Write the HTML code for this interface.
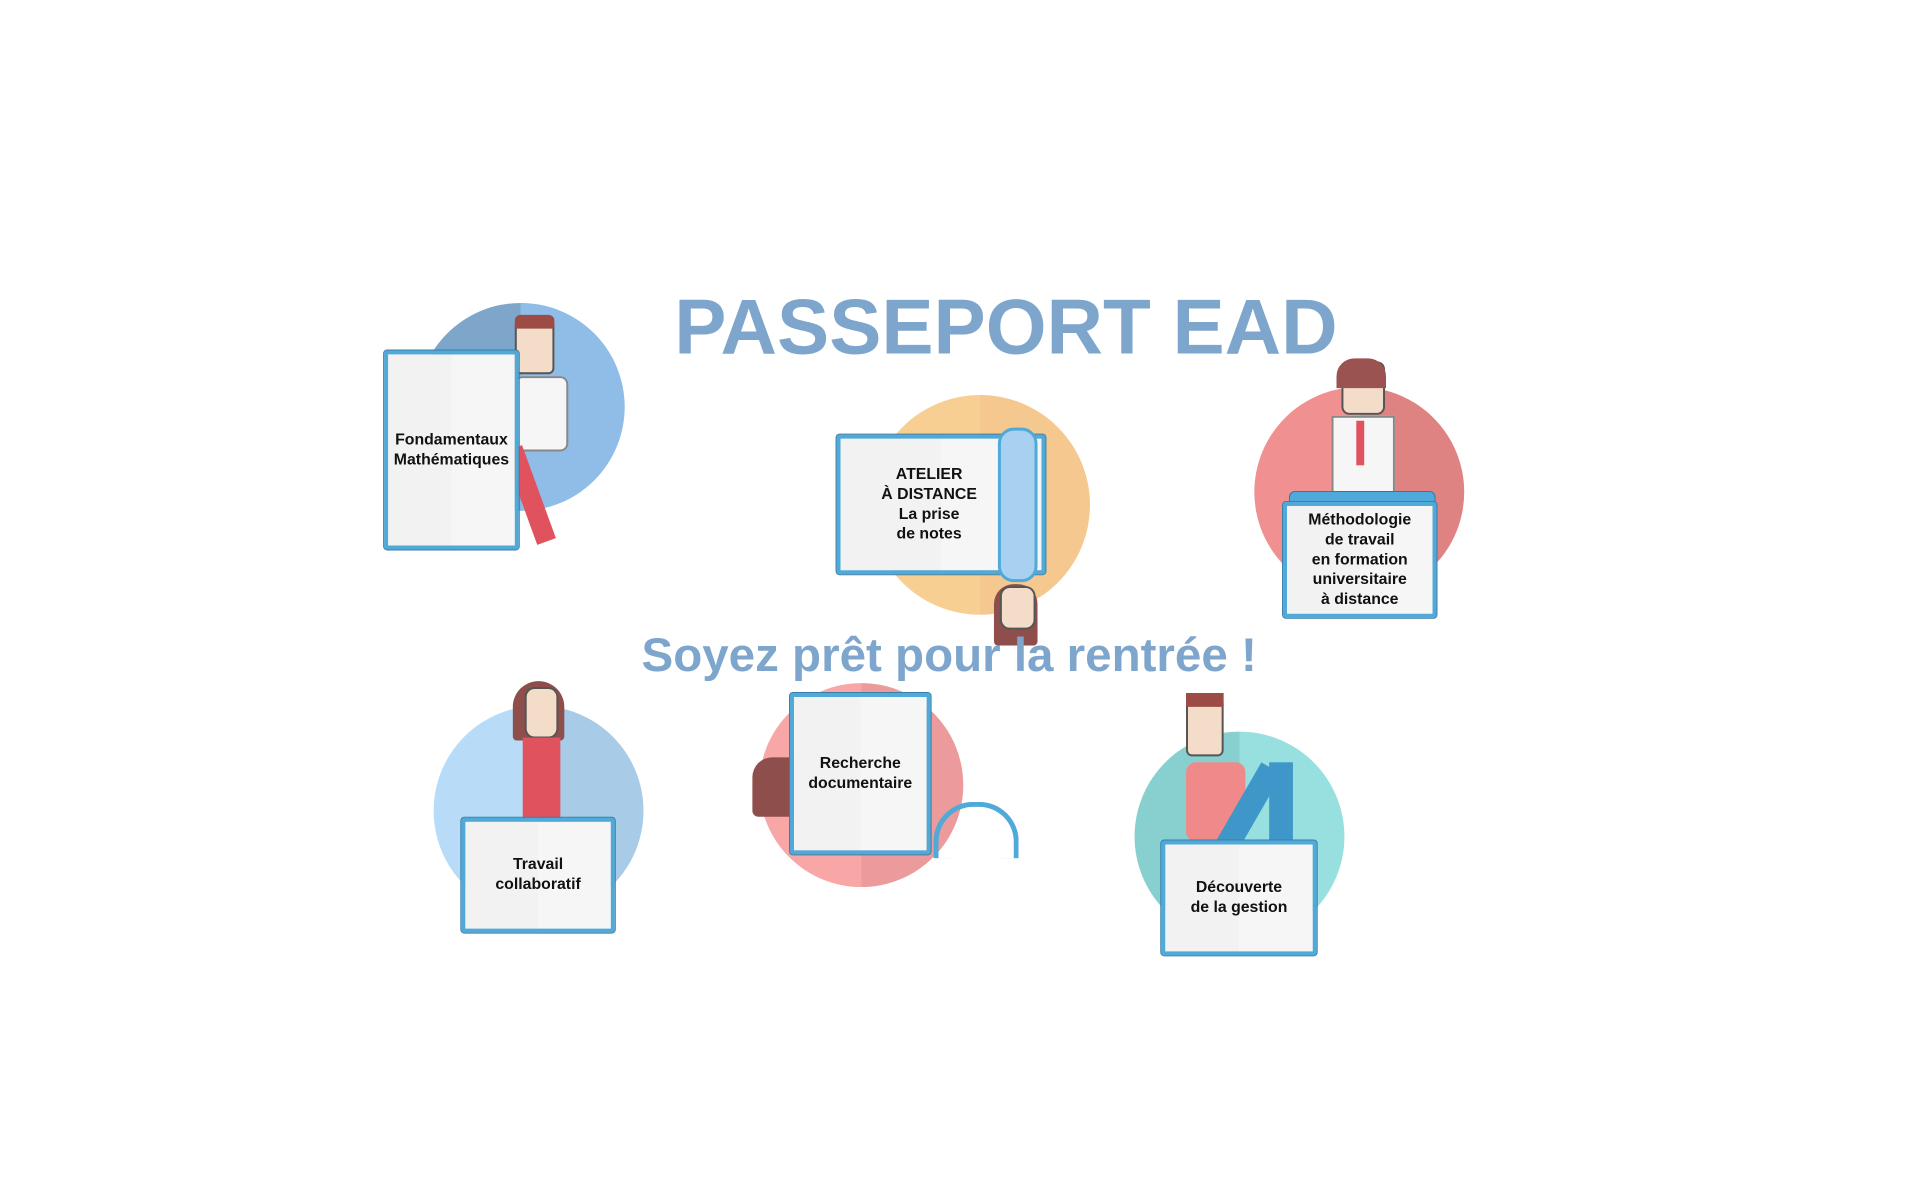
<!DOCTYPE html>
<html><head><meta charset="utf-8"><style>
body{margin:0;width:1920px;height:1192px;background:#fff;position:relative;overflow:hidden;font-family:"Liberation Sans",Arial,sans-serif}
#w{position:absolute;left:0;top:0;width:1940px;height:1200px;transform:scale(0.99);transform-origin:0 0}
.a{position:absolute}
.c{position:absolute;border-radius:50%}
.card{position:absolute;box-sizing:border-box;border:4px solid #4fa9d9;outline:1px solid #3a7ea6;border-radius:3px;background:linear-gradient(to right,#f2f2f2 50%,#f6f6f6 50%);display:flex;align-items:center;justify-content:center;text-align:center;font-weight:bold;font-size:16px;line-height:20px;color:#111}
.h{font-weight:bold;color:#7ea6cc;position:absolute;white-space:nowrap}
</style></head><body><div id="w">
<div class="h" style="left:681px;top:284px;font-size:79px">PASSEPORT EAD</div>

<div class="c" style="left:421px;top:306px;width:210px;height:210px;background:linear-gradient(to right,#7ea6cb 50%,#8fbde7 50%)"></div>
<div class="c" style="left:879px;top:399px;width:222px;height:222px;background:linear-gradient(to right,#f8cf92 50%,#f4c88f 50%)"></div>
<div class="c" style="left:1267px;top:391px;width:212px;height:212px;background:linear-gradient(to right,#f09090 50%,#de8282 50%)"></div>
<div class="c" style="left:438px;top:713px;width:212px;height:212px;background:linear-gradient(to right,#b8dcf8 50%,#a8cbe8 50%)"></div>
<div class="c" style="left:767px;top:690px;width:206px;height:206px;background:linear-gradient(to right,#f8a6a6 50%,#eb9b9b 50%)"></div>
<div class="c" style="left:1146px;top:739px;width:212px;height:212px;background:linear-gradient(to right,#88d0cf 50%,#97e0df 50%)"></div>

<div class="a" style="left:520px;top:322px;width:36px;height:52px;background:#f3dcc8;border:2px solid #555;border-radius:6px"></div>
<div class="a" style="left:520px;top:318px;width:40px;height:14px;background:#9c4b45;border-radius:6px 6px 0 0"></div>
<div class="a" style="left:520px;top:380px;width:50px;height:72px;background:#f6f6f6;border:2px solid #888;border-radius:8px"></div>
<div class="a" style="left:525px;top:450px;width:20px;height:100px;background:#e0525e;transform:rotate(-20deg)"></div>
<div class="a" style="left:1355px;top:365px;width:40px;height:50px;background:#f3dcc8;border:2px solid #555;border-radius:8px"></div>
<div class="a" style="left:1350px;top:362px;width:50px;height:30px;background:#9a5350;border-radius:18px 18px 0 0"></div>
<div class="a" style="left:1345px;top:420px;width:60px;height:85px;background:#f6f6f6;border:2px solid #888"></div>
<div class="a" style="left:1370px;top:425px;width:8px;height:45px;background:#e0525e"></div>
<div class="a" style="left:1302px;top:496px;width:146px;height:16px;background:#4fa9d9;border:1px solid #2a7ca6;border-radius:6px"></div>
<div class="a" style="left:1004px;top:590px;width:44px;height:62px;background:#8e4e4b;border-radius:20px 20px 4px 4px"></div>
<div class="a" style="left:1010px;top:592px;width:32px;height:40px;background:#f3dcc8;border:2px solid #555;border-radius:10px"></div>
<div class="a" style="left:518px;top:688px;width:52px;height:60px;background:#8e4e4b;border-radius:26px 26px 4px 4px"></div>
<div class="a" style="left:530px;top:694px;width:30px;height:48px;background:#f3dcc8;border:2px solid #555;border-radius:10px"></div>
<div class="a" style="left:528px;top:745px;width:38px;height:85px;background:#e0525e"></div>
<div class="a" style="left:760px;top:765px;width:42px;height:60px;background:#8e4e4b;border-radius:20px 0 0 6px"></div>
<div class="a" style="left:943px;top:810px;width:76px;height:52px;border:5px solid #4fa9d9;border-bottom:none;border-radius:40px 40px 0 0"></div>
<div class="a" style="left:1198px;top:705px;width:34px;height:55px;background:#f3dcc8;border:2px solid #555;border-radius:6px"></div>
<div class="a" style="left:1198px;top:700px;width:38px;height:14px;background:#9c4b45"></div>
<div class="a" style="left:1198px;top:770px;width:60px;height:80px;background:#f08a8a;border-radius:10px"></div>
<div class="a" style="left:1250px;top:770px;width:24px;height:90px;background:#3f97c9;transform:rotate(30deg)"></div>
<div class="a" style="left:1282px;top:770px;width:24px;height:80px;background:#3f97c9"></div>

<div class="card" style="left:388px;top:354px;width:136px;height:201px">Fondamentaux<br>Mathématiques</div>
<div class="card" style="left:845px;top:439px;width:211px;height:141px;background:linear-gradient(to right,#f2f2f2 50%,#f6f6f6 50%)"><div style="margin-right:24px">ATELIER<br>À DISTANCE<br>La prise<br>de notes</div></div>
<div class="a" style="left:1008px;top:432px;width:34px;height:150px;background:#a8d0f0;border:3px solid #4fa9d9;border-radius:16px"></div>
<div class="card" style="left:1296px;top:507px;width:155px;height:117px">Méthodologie<br>de travail<br>en formation<br>universitaire<br>à distance</div>
<div class="card" style="left:466px;top:826px;width:155px;height:116px">Travail<br>collaboratif</div>
<div class="card" style="left:798px;top:700px;width:142px;height:163px">Recherche<br>documentaire</div>
<div class="card" style="left:1173px;top:849px;width:157px;height:116px">Découverte<br>de la gestion</div>

<div class="h" style="left:648px;top:635px;font-size:48px">Soyez prêt pour la rentrée !</div>
</div></body></html>
